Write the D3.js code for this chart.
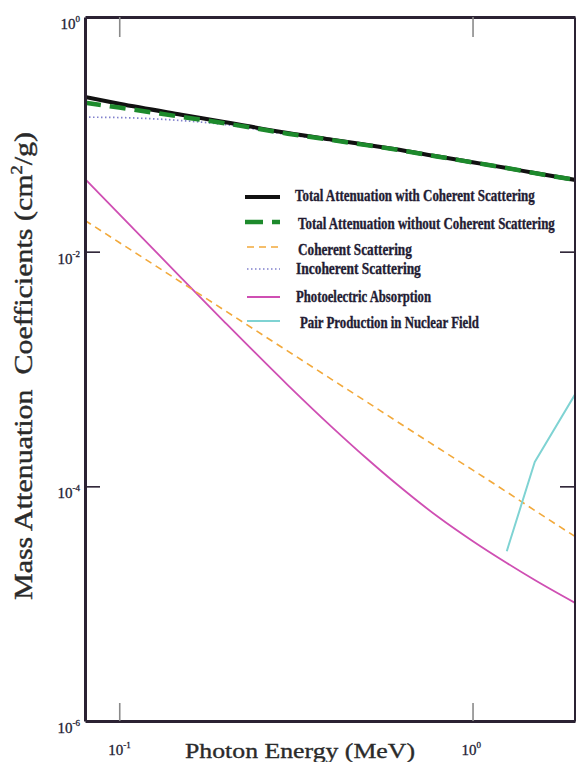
<!DOCTYPE html>
<html>
<head>
<meta charset="utf-8">
<script src="https://cdn.jsdelivr.net/npm/d3@7"></script>
<style>
  html, body { margin: 0; padding: 0; background: #fff; }
  svg { display: block; }
</style>
</head>
<body>
<svg id="chart" width="576" height="762"></svg>
<script>
// Photon energies (MeV) shared by the attenuation curves
const energy = [0.08, 0.1, 0.15, 0.2, 0.3, 0.4, 0.5, 0.6, 0.8, 1.0, 1.25, 1.5, 2.0];

// Mass attenuation coefficients (cm^2/g)
const totalWithCoherent    = [0.208, 0.182, 0.147, 0.127, 0.1026, 0.0900, 0.0814, 0.0750, 0.0647, 0.0578, 0.0517, 0.0468, 0.0404];
const totalWithoutCoherent = [0.186, 0.169, 0.141, 0.124, 0.1013, 0.0893, 0.0809, 0.0746, 0.0645, 0.0577, 0.0516, 0.0467, 0.0404];
const incoherent           = [0.140, 0.139, 0.131, 0.121, 0.0995, 0.0885, 0.0805, 0.0743, 0.0642, 0.0575, 0.0514, 0.0465, 0.0402];
const coherent             = [0.01845, 0.01198, 0.00546, 0.00312, 0.00142, 0.000813, 0.000528, 0.00037, 0.000212, 0.000138, 0.0000895, 0.0000623, 0.0000356];
const photoelectric        = [0.0416, 0.02094, 0.00596, 0.002466, 0.00073, 0.00032, 0.0001743, 0.0001088, 0.0000547, 0.0000342, 0.0000222, 0.0000159, 0.00000974];

// Pair production only above threshold
const pairEnergy = [1.25, 1.5, 2.0];
const pairNuclear = [0.000028, 0.000161, 0.00069];

// Axis ticks
const xTickValues = [0.1, 1];
const xTickExponents = ["-1", "0"];
const yTickValues = [1, 1e-2, 1e-4, 1e-6];
const yTickExponents = ["0", "-2", "-4", "-6"];

// Legend entries, top to bottom
const legendLabels = [
  "Total Attenuation with Coherent Scattering",
  "Total Attenuation without Coherent Scattering",
  "Coherent Scattering",
  "Incoherent Scattering",
  "Photoelectric Absorption",
  "Pair Production in Nuclear Field"
];

const svg = d3.select("#chart");
const plotLeft = 85, plotRight = 575, plotTop = 17, plotBottom = 721;

const x = d3.scaleLog().domain([0.08, 1.95]).range([plotLeft, plotRight]);
const y = d3.scaleLog().domain([1e-6, 1]).range([plotBottom, plotTop]);

const frameColor = "#2b2233";
const textColor = "#231c33";

// clip region for the curves
svg.append("defs").append("clipPath").attr("id", "plotClip")
  .append("rect").attr("x", plotLeft).attr("y", plotTop)
  .attr("width", plotRight - plotLeft).attr("height", plotBottom - plotTop);

// series styling
const styles = [
  { color: "#111111", width: 4,   dash: null },
  { color: "#1d8a2c", width: 4.5, dash: "16,9" },
  { color: "#f2a93b", width: 1.6, dash: "7,5" },
  { color: "#8080cc", width: 1.7, dash: "1.5,2.5" },
  { color: "#cf4fb3", width: 1.8, dash: null },
  { color: "#7fd3d3", width: 2,   dash: null }
];

const toPoints = (xs, ys) => xs.map((e, i) => [e, ys[i]]);
const smooth = d3.line().x(d => x(d[0])).y(d => y(d[1])).curve(d3.curveMonotoneX);
const straight = d3.line().x(d => x(d[0])).y(d => y(d[1]));

const curves = svg.append("g").attr("clip-path", "url(#plotClip)");
const series = [
  { pts: toPoints(energy, photoelectric), st: styles[4], gen: smooth },
  { pts: toPoints(energy, coherent), st: styles[2], gen: smooth },
  { pts: toPoints(pairEnergy, pairNuclear), st: styles[5], gen: straight },
  { pts: toPoints(energy, incoherent), st: styles[3], gen: smooth },
  { pts: toPoints(energy, totalWithCoherent), st: styles[0], gen: smooth },
  { pts: toPoints(energy, totalWithoutCoherent), st: styles[1], gen: smooth }
];
series.forEach(s => {
  curves.append("path")
    .attr("d", s.gen(s.pts))
    .attr("fill", "none")
    .attr("stroke", s.st.color)
    .attr("stroke-width", s.st.width)
    .attr("stroke-dasharray", s.st.dash)
    .attr("stroke-linejoin", "round");
});

// frame and tick marks through d3 axes
function styleAxis(g, tickColor) {
  g.select(".domain").attr("stroke", frameColor).attr("stroke-width", 3);
  g.selectAll(".tick line").attr("stroke", tickColor).attr("stroke-width", 1.6);
  g.selectAll(".tick text").remove();
}
svg.append("g").attr("transform", `translate(0,${plotBottom})`)
  .call(d3.axisBottom(x).tickValues(xTickValues).tickSize(-18).tickSizeOuter(0).tickFormat(""))
  .call(g => styleAxis(g, "#8a8a8a"));
svg.append("g").attr("transform", `translate(0,${plotTop})`)
  .call(d3.axisTop(x).tickValues(xTickValues).tickSize(-20).tickSizeOuter(0).tickFormat(""))
  .call(g => styleAxis(g, "#8a8a8a"));
svg.append("g").attr("transform", `translate(${plotLeft},0)`)
  .call(d3.axisLeft(y).tickValues([1e-2, 1e-4]).tickSize(-15).tickSizeOuter(0).tickFormat(""))
  .call(g => styleAxis(g, frameColor));
svg.append("g").attr("transform", `translate(${plotRight},0)`)
  .call(d3.axisRight(y).tickValues([1e-2, 1e-4]).tickSize(-15).tickSizeOuter(0).tickFormat(""))
  .call(g => styleAxis(g, frameColor));

const serif = "'Liberation Serif', 'Times New Roman', serif";

// power-of-ten tick labels
function powerLabel(sel, exp) {
  sel.append("tspan").text("10");
  sel.append("tspan").attr("dy", -7).attr("font-size", 9).text(exp);
}
xTickValues.forEach((v, i) => {
  const t = svg.append("text")
    .attr("x", x(v) - 11).attr("y", 755)
    .attr("font-family", serif).attr("font-size", 15)
    .attr("fill", textColor)
    .attr("stroke", textColor).attr("stroke-width", 0.3);
  powerLabel(t, xTickExponents[i]);
});
yTickValues.forEach((v, i) => {
  const t = svg.append("text")
    .attr("x", 80).attr("y", y(v) + 12)
    .attr("text-anchor", "end")
    .attr("font-family", serif).attr("font-size", 15)
    .attr("fill", textColor)
    .attr("stroke", textColor).attr("stroke-width", 0.3);
  powerLabel(t, yTickExponents[i]);
});

// axis titles
svg.append("text")
  .attr("x", 185).attr("y", 758)
  .attr("font-family", serif).attr("font-size", 22)
  .attr("fill", "#2a2a2a")
  .attr("stroke", "#2a2a2a").attr("stroke-width", 0.35)
  .attr("textLength", 230).attr("lengthAdjust", "spacingAndGlyphs")
  .text("Photon Energy (MeV)");

const yTitle = svg.append("text")
  .attr("transform", "translate(32,600) rotate(-90)")
  .attr("font-family", serif).attr("font-size", 26)
  .attr("fill", "#2a2a2a")
  .attr("stroke", "#2a2a2a").attr("stroke-width", 0.4)
  .attr("textLength", 468).attr("lengthAdjust", "spacingAndGlyphs");
yTitle.append("tspan").text("Mass Attenuation\u00a0\u00a0Coefficients (cm");
yTitle.append("tspan").attr("dy", -10).attr("font-size", 16).text("2");
yTitle.append("tspan").attr("dy", 10).text("/g)");

// legend: keys plus horizontally condensed bold labels
const legendLineY = [197, 222, 247, 269, 297, 321];
const legendTextX = [295, 298, 298, 296, 296, 300];
const legendTextY = [201, 229, 255, 274, 302, 328];
const legendTextW = [240, 257, 114, 125, 135, 179];
const legend = svg.append("g");
legendLabels.forEach((label, i) => {
  const st = styles[i];
  legend.append("line")
    .attr("x1", i < 2 ? 245 : 247).attr("x2", 280)
    .attr("y1", legendLineY[i]).attr("y2", legendLineY[i])
    .attr("stroke", st.color)
    .attr("stroke-width", st.width)
    .attr("stroke-dasharray", i === 1 ? "18,9" : st.dash);
  const t = legend.append("text")
    .attr("font-family", serif).attr("font-weight", "bold").attr("font-size", 16)
    .attr("fill", textColor)
    .attr("stroke", textColor).attr("stroke-width", 0.35)
    .text(label);
  const natural = t.node().getComputedTextLength();
  t.attr("transform",
    `translate(${legendTextX[i]},${legendTextY[i]}) scale(${legendTextW[i] / natural},1)`);
});
</script>
</body>
</html>
